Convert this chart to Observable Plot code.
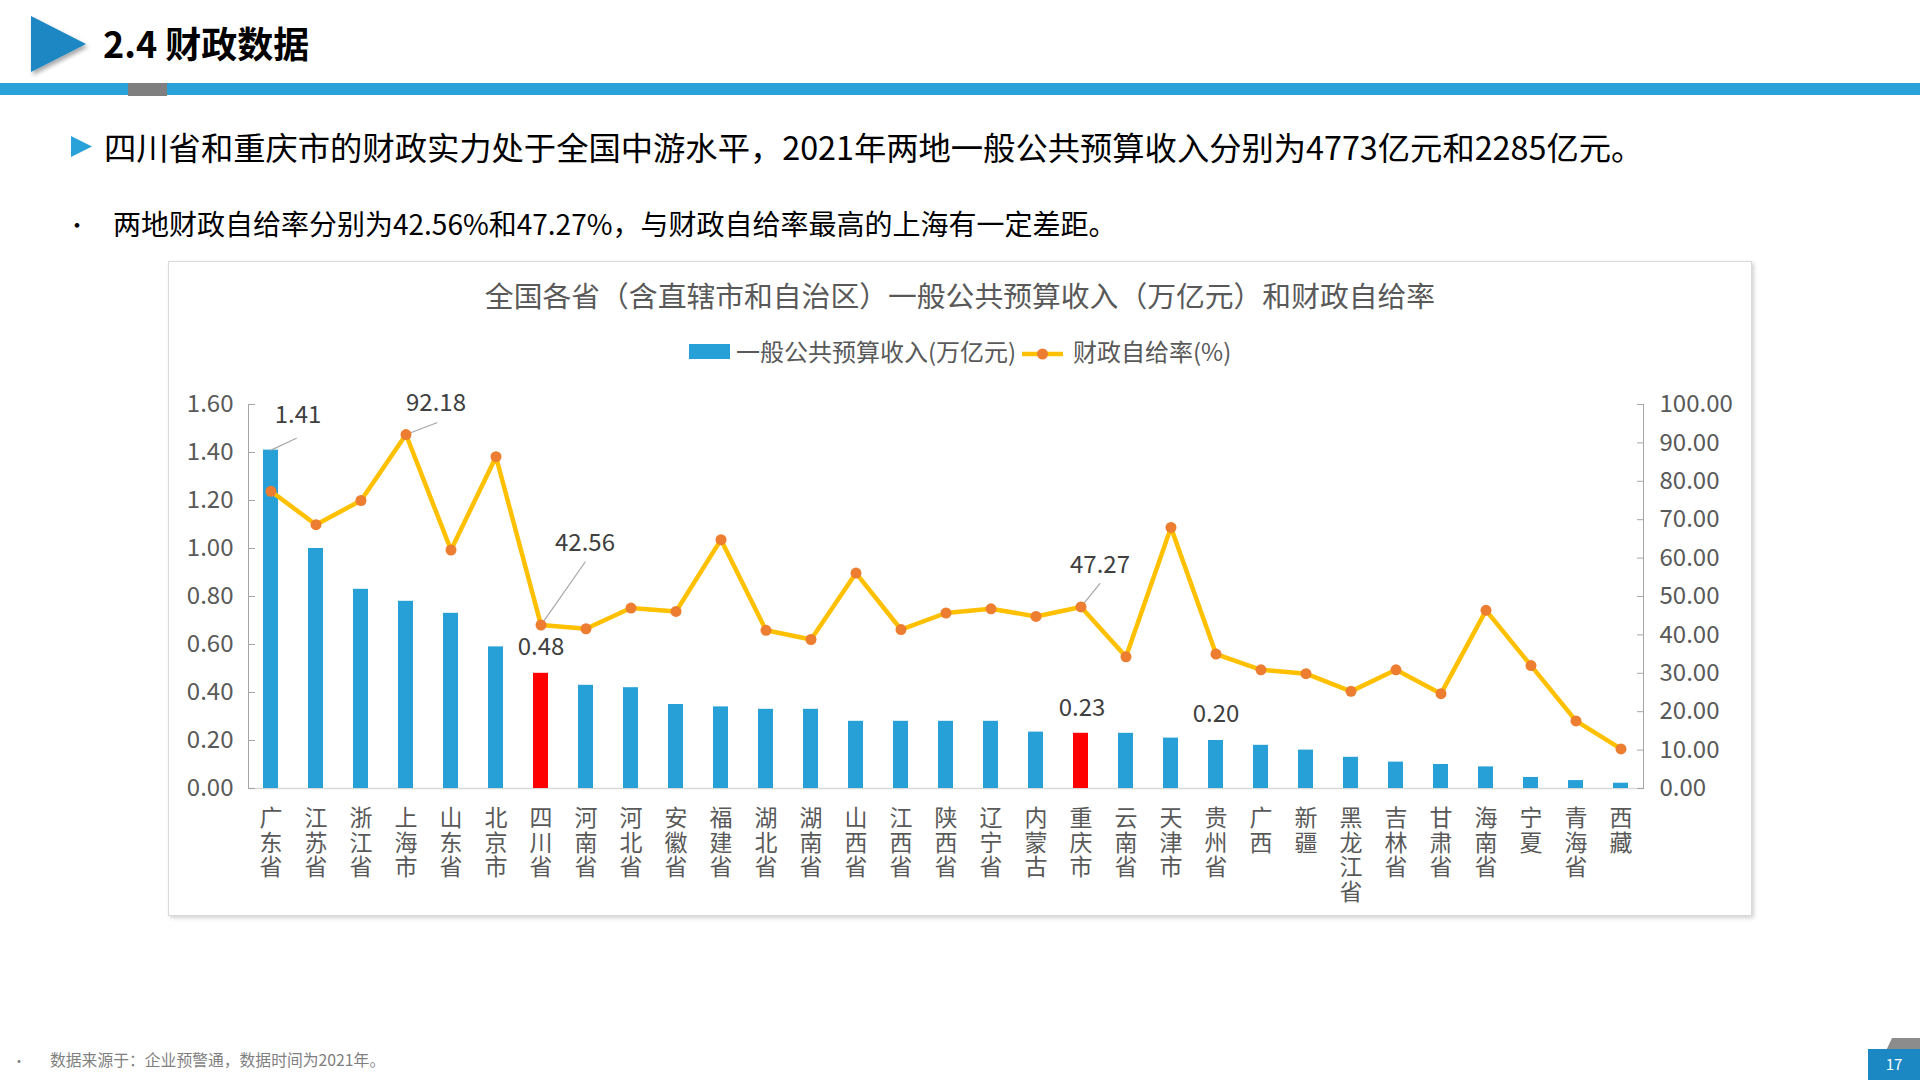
<!DOCTYPE html>
<html>
<head>
<meta charset="utf-8">
<script src="https://cdn.jsdelivr.net/npm/d3@7"></script>
<script src="https://cdn.jsdelivr.net/npm/@observablehq/plot@0.6"></script>
<style>
  html, body { margin:0; padding:0; background:#fff; }
  body { width:1920px; height:1080px; position:relative; overflow:hidden;
         font-family:"Noto Sans CJK SC","Noto Sans",sans-serif; }
  .abs { position:absolute; white-space:nowrap; }
</style>
</head>
<body>
<script>
// ---------------- DATA ----------------
const categories = ["广东省","江苏省","浙江省","上海市","山东省","北京市","四川省","河南省","河北省","安徽省","福建省","湖北省","湖南省","山西省","江西省","陕西省","辽宁省","内蒙古","重庆市","云南省","天津市","贵州省","广西","新疆","黑龙江省","吉林省","甘肃省","海南省","宁夏","青海省","西藏"];
const revenue = [1.41,1.00,0.83,0.78,0.73,0.59,0.48,0.43,0.42,0.35,0.34,0.33,0.33,0.28,0.28,0.28,0.28,0.235,0.23,0.23,0.21,0.20,0.18,0.16,0.13,0.11,0.10,0.09,0.046,0.033,0.022];
const selfRate = [77.4,68.7,75.0,92.18,62.1,86.4,42.56,41.6,47.0,46.1,64.8,41.2,38.8,56.1,41.4,45.7,46.8,44.8,47.27,34.3,68.0,35.0,30.9,29.9,25.3,30.9,24.7,46.4,32.0,17.6,10.3];
const highlighted = ["四川省","重庆市"];
const leftTicks = [0,0.2,0.4,0.6,0.8,1.0,1.2,1.4,1.6];
const rightTicks = [0,10,20,30,40,50,60,70,80,90,100];
const seriesNames = ["一般公共预算收入(万亿元)","财政自给率(%)"];
const chartTitle = "全国各省（含直辖市和自治区）一般公共预算收入（万亿元）和财政自给率";
const heading = "2.4 财政数据";
const mainPoint = "四川省和重庆市的财政实力处于全国中游水平，2021年两地一般公共预算收入分别为4773亿元和2285亿元。";
const subPoint = "两地财政自给率分别为42.56%和47.27%，与财政自给率最高的上海有一定差距。";
const sourceNote = "数据来源于：企业预警通，数据时间为2021年。";
const pageNo = "17";
// --------------------------------------

function el(tag, style, text) {
  const e = document.createElement(tag);
  e.className = "abs";
  Object.assign(e.style, style);
  if (text != null) e.textContent = text;
  document.body.appendChild(e);
  return e;
}
function svgEl(html, style) {
  const d = document.createElement("div");
  d.className = "abs";
  Object.assign(d.style, style);
  d.innerHTML = html;
  document.body.appendChild(d);
  return d;
}

// header
svgEl('<svg width="100" height="90"><defs><filter id="sh" x="-20%" y="-20%" width="150%" height="150%"><feDropShadow dx="2" dy="3" stdDeviation="2" flood-color="#000" flood-opacity="0.35"/></filter></defs><polygon points="31,16 31,72 86,44" fill="#1b87c3" filter="url(#sh)"/></svg>', {left:"0px", top:"0px"});
el("div", {left:"103px", top:"20px", fontSize:"36px", lineHeight:"44px", fontWeight:"bold", color:"#000"}, heading);
el("div", {left:"0px", top:"83px", width:"1920px", height:"12px", background:"#29a1d9"});
el("div", {left:"128px", top:"83px", width:"39px", height:"13px", background:"#7f7f7f"});

// main point
svgEl('<svg width="24" height="24"><polygon points="0,1 0,22 21,11.5" fill="#29a1d9"/></svg>', {left:"71px", top:"135px"});
el("div", {left:"104px", top:"126px", fontSize:"32.3px", lineHeight:"40px", color:"#000"}, mainPoint);
el("div", {left:"66px", top:"206px", fontSize:"22px", lineHeight:"34px", color:"#000"}, "•");
el("div", {left:"113px", top:"205px", fontSize:"28px", lineHeight:"36px", color:"#000"}, subPoint);

// chart box
el("div", {left:"168px", top:"261px", width:"1582px", height:"653px", border:"1px solid #d9d9d9", boxShadow:"2px 2px 4px rgba(0,0,0,0.18)", background:"#fff"});
el("div", {left:"168px", top:"276px", width:"1584px", textAlign:"center", fontSize:"28.8px", lineHeight:"38px", color:"#595959"}, chartTitle);

// legend
el("div", {left:"689px", top:"344px", width:"41px", height:"15px", background:"#26a0d7"});
el("div", {left:"736px", top:"336px", fontSize:"24px", lineHeight:"30px", color:"#595959"}, seriesNames[0]);
svgEl('<svg width="42" height="16"><line x1="0" y1="8" x2="41" y2="8" stroke="#ffc000" stroke-width="4.5"/><circle cx="20.5" cy="8" r="5.5" fill="#ed7d31"/></svg>', {left:"1022px", top:"343px"});
el("div", {left:"1073px", top:"336px", fontSize:"24px", lineHeight:"30px", color:"#595959"}, seriesNames[1]);

// footer
el("div", {left:"12px", top:"1050px", fontSize:"14px", lineHeight:"20px", color:"#7f7f7f"}, "•");
el("div", {left:"50px", top:"1050px", fontSize:"15.8px", lineHeight:"20px", color:"#7f7f7f"}, sourceNote);
svgEl('<svg width="40" height="16"><polygon points="0,15 7,0 40,0 40,15" fill="#8c8c8c"/></svg>', {left:"1885px", top:"1035px"});
el("div", {left:"1868px", top:"1049px", width:"52px", height:"31px", background:"#1b87c3"});
el("div", {left:"1868px", top:"1052px", width:"52px", textAlign:"center", fontSize:"15px", lineHeight:"24px", color:"#fff"}, pageNo);

// ---------------- PLOT ----------------
const k = 1.6 / 100; // right axis (%) mapped onto left axis scale
const data = categories.map((c, i) => ({cat: c, rev: revenue[i], rate: selfRate[i]}));
const pick = (name) => data.filter(d => d.cat === name);
const leader = {draw(ctx, l) { ctx.moveTo(0, 0); ctx.lineTo(0, -l); }};
const numStyle = {fontSize: 24, fill: "#404040", stroke: "none"};

const chart = Plot.plot({
  width: 1584, height: 529,
  marginLeft: 80, marginRight: 109, marginTop: 24, marginBottom: 121,
  style: {fontFamily: '"Noto Sans CJK SC","Noto Sans",sans-serif', background: "transparent", overflow: "visible"},
  x: {domain: categories, paddingInner: 0.667, paddingOuter: 0.3335, axis: null},
  y: {domain: [0, 1.6], axis: null},
  marks: [
    Plot.ruleY([0], {stroke: "#d9d9d9", strokeWidth: 1.5}),
    Plot.frame({anchor: "left", stroke: "#a6a6a6"}),
    Plot.frame({anchor: "right", stroke: "#a6a6a6"}),
    Plot.axisY(leftTicks, {anchor: "left", tickSize: 7, dx: 7, fill: "none", stroke: "#a6a6a6", label: null}),
    Plot.axisY(leftTicks, {anchor: "left", tickSize: 0, tickPadding: 15, tickFormat: d => d.toFixed(2), fontSize: 24, fill: "#595959", label: null}),
    Plot.axisY(rightTicks.map(r => r * k), {anchor: "right", tickSize: 7, dx: -7, fill: "none", stroke: "#a6a6a6", label: null}),
    Plot.axisY(rightTicks.map(r => r * k), {anchor: "right", tickSize: 0, tickPadding: 16, tickFormat: d => (d / k).toFixed(2), fontSize: 24, fill: "#595959", label: null}),
    Plot.axisX({anchor: "bottom", tickSize: 0, tickPadding: 20, tickFormat: d => [...d].join("\n"), fontSize: 23, lineHeight: 1.07, fill: "#595959", label: null}),
    Plot.barY(data, {filter: d => !highlighted.includes(d.cat), x: "cat", y: "rev", fill: "#26a0d7"}),
    Plot.barY(data, {filter: d => highlighted.includes(d.cat), x: "cat", y: "rev", fill: "#ff0000"}),
    // leader lines
    Plot.vector(pick("广东省"), {x: "cat", y: "rev", rotate: 65, length: 28, anchor: "start", shape: leader, stroke: "#a6a6a6", strokeWidth: 1.2}),
    Plot.vector(pick("上海市"), {x: "cat", y: d => d.rate * k, rotate: 69, length: 33, anchor: "start", shape: leader, stroke: "#a6a6a6", strokeWidth: 1.2}),
    Plot.vector(pick("四川省"), {x: "cat", y: d => d.rate * k, rotate: 35, length: 77, anchor: "start", shape: leader, stroke: "#a6a6a6", strokeWidth: 1.2}),
    Plot.vector(pick("重庆市"), {x: "cat", y: d => d.rate * k, rotate: 39, length: 30, anchor: "start", shape: leader, stroke: "#a6a6a6", strokeWidth: 1.2}),
    // line + markers
    Plot.line(data, {x: "cat", y: d => d.rate * k, stroke: "#ffc000", strokeWidth: 4.5, strokeLinejoin: "round"}),
    Plot.dot(data, {x: "cat", y: d => d.rate * k, r: 5.5, fill: "#ed7d31", stroke: "none"}),
    // labels for bars
    Plot.text(pick("广东省"), {x: "cat", y: "rev", text: d => d.rev.toFixed(2), dx: 27, dy: -35, ...numStyle}),
    Plot.text(pick("四川省"), {x: "cat", y: "rev", text: d => d.rev.toFixed(2), dx: 0, dy: -26, ...numStyle}),
    Plot.text(pick("重庆市"), {x: "cat", y: "rev", text: d => d.rev.toFixed(2), dx: 1, dy: -25, ...numStyle}),
    Plot.text(pick("贵州省"), {x: "cat", y: "rev", text: d => d.rev.toFixed(2), dx: 0, dy: -26, ...numStyle}),
    // labels for rates
    Plot.text(pick("上海市"), {x: "cat", y: d => d.rate * k, text: d => d.rate.toFixed(2), dx: 30, dy: -31, ...numStyle}),
    Plot.text(pick("四川省"), {x: "cat", y: d => d.rate * k, text: d => d.rate.toFixed(2), dx: 44, dy: -82, ...numStyle}),
    Plot.text(pick("重庆市"), {x: "cat", y: d => d.rate * k, text: d => d.rate.toFixed(2), dx: 19, dy: -42, ...numStyle})
  ]
});
const holder = document.createElement("div");
holder.className = "abs";
Object.assign(holder.style, {left: "168px", top: "380px"});
holder.appendChild(chart);
document.body.appendChild(holder);
</script>
</body>
</html>
